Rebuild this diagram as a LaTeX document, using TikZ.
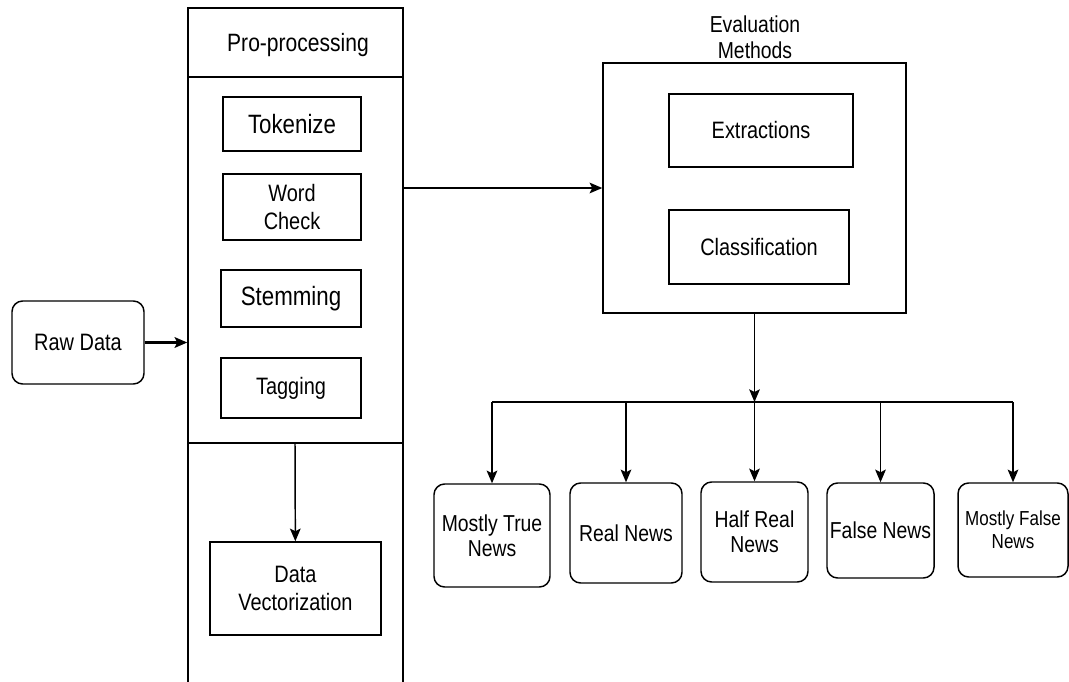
\documentclass[tikz,border=0pt]{standalone}
\usepackage{fontspec}
\setmainfont[FakeStretch=0.84]{Liberation Sans}
\usetikzlibrary{arrows.meta}

\begin{document}
\begin{tikzpicture}[x=0.75pt, y=-0.75pt, line width=1.1pt,
  >={Stealth[length=9.5pt,width=8pt,inset=2pt]},
  box/.style={draw, rectangle, align=center, inner sep=0pt, font=\fontsize{17.8}{21.5}\selectfont},
  roundbox/.style={box, rounded corners=8pt}]
\useasboundingbox (0,0) rectangle (1069,681);
% Draw pre-processing column
\node[draw, minimum width=161.25pt, minimum height=511.5pt] (pro) at (295.5,349) {};
\node[font=\fontsize{18.8}{21}\selectfont] (protitle) at (298,45) {Pro-processing};
\draw (188,77) -- (403,77);
\draw (188,443) -- (404,443);
\coordinate (sep) at (295,443);
% Draw boxes inside the column
\node[box, minimum width=103.5pt, minimum height=40.5pt, font=\fontsize{19.9}{22}\selectfont] (tok) at (292,124) {Tokenize};
\node[box, minimum width=103.5pt, minimum height=49.5pt] (wc) at (292,207) {Word\\Check};
\node[box, minimum width=105pt, minimum height=42.75pt, font=\fontsize{19.9}{22}\selectfont] (stem) at (291,298.5) {Stemming};
\node[box, minimum width=105pt, minimum height=45pt] (tag) at (291,388) {Tagging};
\node[box, minimum width=128.25pt, minimum height=69.75pt] (vec) at (295.5,588.5) {Data\\Vectorization};
% Draw raw data
\node[roundbox, minimum width=99pt, minimum height=62.25pt] (raw) at (78,342.5) {Raw Data};
% Draw evaluation methods
\node[draw, minimum width=227.25pt, minimum height=187.5pt] (eval) at (754.5,188) {};
\node[align=center, font=\fontsize{17.3}{19.5}\selectfont] (evaltitle) at (755,37) {Evaluation\\Methods};
\node[box, minimum width=138pt, minimum height=54.75pt] (ext) at (761,130.5) {Extractions};
\node[box, minimum width=135pt, minimum height=55.5pt] (cls) at (759,247) {Classification};
% Draw output classes
\node[roundbox, minimum width=87pt, minimum height=77.25pt, font=\fontsize{17.3}{19}\selectfont] (mt) at (492,535.5) {Mostly True\\News};
\node[roundbox, minimum width=84pt, minimum height=75pt, font=\fontsize{17.3}{19}\selectfont] (rn) at (626,533) {Real News};
\node[roundbox, minimum width=80.25pt, minimum height=75pt, font=\fontsize{17.3}{19}\selectfont] (hr) at (754.5,532) {Half Real\\News};
\node[roundbox, minimum width=80.25pt, minimum height=71.25pt, font=\fontsize{17.3}{19}\selectfont] (fn) at (880.5,530.5) {False News};
\node[roundbox, minimum width=82.5pt, minimum height=70.5pt, font=\fontsize{15.2}{17.5}\selectfont] (mf) at (1013,530) {Mostly False\\News};
\coordinate (split) at (754.5,402);
% Draw arrows
\draw[->, line width=1.8pt] (raw) -- (raw -| pro.west);
\draw[->] (pro.east |- eval.west) -- (eval.west);
\draw[->] (sep) -- (vec);
\draw[->] (eval) -- (split);
\draw (split -| mt) -- (split -| mf);
\foreach \n in {mt,rn,hr,fn,mf}
  \draw[->] (split -| \n) -- (\n);
\end{tikzpicture}
\end{document}
